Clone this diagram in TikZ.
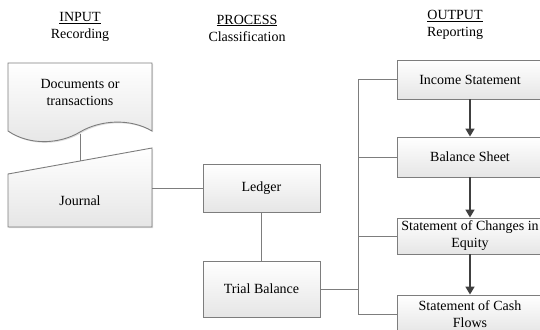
\documentclass[tikz,border=0pt]{standalone}
\usepackage{fontspec}
\setmainfont{Liberation Serif}
\usetikzlibrary{shadows,arrows.meta}
\definecolor{lineg}{RGB}{125,125,125}
\definecolor{arrg}{RGB}{64,64,64}
\tikzset{
  boxstyle/.style={draw=lineg, line width=0.9pt, top color=white, bottom color=gray!20,
    drop shadow={shadow xshift=1.2pt, shadow yshift=-1.2pt, fill=gray!50, opacity=.5},
    inner sep=1pt, align=center, font=\fontsize{14}{17}\selectfont},
  shapestyle/.style={draw=lineg, line width=0.9pt, top color=white, bottom color=gray!20,
    drop shadow={shadow xshift=1.2pt, shadow yshift=-1.2pt, fill=gray!50, opacity=.5}},
  conn/.style={draw=lineg, line width=0.9pt},
  arr/.style={draw=arrg, line width=1.6pt, -{Triangle[length=8pt,width=9pt]}},
  head/.style={align=center, font=\fontsize{14}{17}\selectfont, inner sep=0pt},
  txt/.style={align=center, font=\fontsize{14}{17}\selectfont, inner sep=0pt}
}
\begin{document}
\begin{tikzpicture}[x=1pt,y=-1pt]
\useasboundingbox (0,0) rectangle (540,329);
\clip (0,0) rectangle (540,329);
% headings
\node[head] (hin) at (80,27) {\underline{INPUT}\\Recording};
\node[head] (hpr) at (247,28) {\underline{PROCESS}\\Classification};
\node[head] (hout) at (455,25) {\underline{OUTPUT}\\Reporting};
% document shape
\path[shapestyle] (8,63) -- (152,63) -- (152,131)
  .. controls (130,118) and (100,120) .. (80,132)
  .. controls (60,144) and (30,146) .. (8,131) -- cycle;
\node[txt] (doc) at (80,92) {Documents or\\transactions};
% journal (manual input)
\path[shapestyle] (8,174) -- (152,148) -- (152,227) -- (8,227) -- cycle;
\node[txt] (jour) at (80,201) {Journal};
\coordinate (docb) at (80,134);
\coordinate (jtop) at (80,161);
\coordinate (jright) at (152,188);
% process boxes
\node[boxstyle, minimum width=117pt, minimum height=48pt] (ledger) at (261.5,188) {Ledger};
\node[boxstyle, minimum width=117pt, minimum height=56pt] (trial) at (261.5,289) {Trial Balance};
% output boxes
\node[boxstyle, minimum width=146pt, minimum height=39pt] (inc) at (470,79.5) {Income Statement};
\node[boxstyle, minimum width=146pt, minimum height=40pt] (bal) at (470,157) {Balance Sheet};
\node[boxstyle, minimum width=146pt, minimum height=36pt] (chg) at (470,236) {Statement of Changes in\\Equity};
\node[boxstyle, minimum width=146pt, minimum height=38pt] (cash) at (470,314) {Statement of Cash\\Flows};
% connectors
\draw[conn] (docb) -- (jtop);
\draw[conn] (jright) -- (ledger.west);
\draw[conn] (ledger.south) -- (trial.north);
\coordinate (bus) at (358,0);
\draw[conn] (inc.west) -- (inc.west -| bus) -- (cash.west -| bus) -- (cash.west);
\draw[conn] (bal.west) -- (bal.west -| bus);
\draw[conn] (chg.west) -- (chg.west -| bus);
\draw[conn] (trial.east) -- (trial.east -| bus);
\draw[arr] (inc.south) -- (bal.north);
\draw[arr] (bal.south) -- (chg.north);
\draw[arr] (chg.south) -- (cash.north);
\end{tikzpicture}
\end{document}
